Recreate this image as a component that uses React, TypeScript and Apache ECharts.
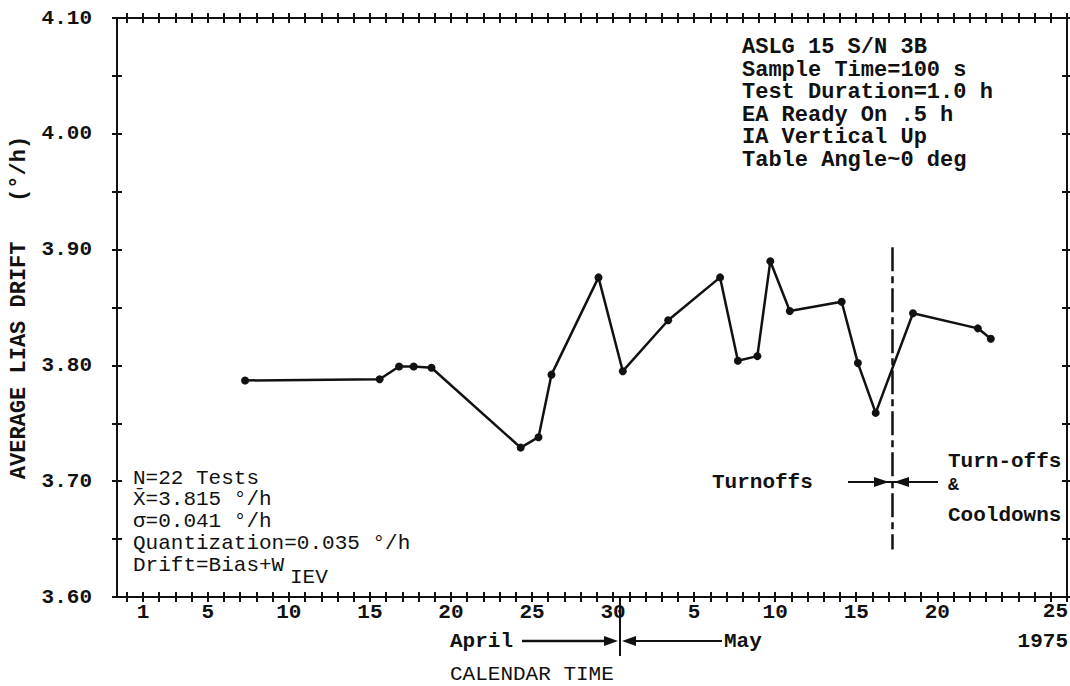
import React, { useEffect, useRef } from "react";
import * as echarts from "echarts";

// Test days (counted from 31 March 1975: April d = d, May d = 30 + d)
const testDays = [7.3, 15.6, 16.8, 17.7, 18.8, 24.3, 25.4, 26.2, 29.1, 30.6, 33.4, 36.6, 37.7, 38.9, 39.7, 40.9, 44.1, 45.1, 46.2, 48.5, 52.5, 53.3];
// Average bias drift per test (deg/h)
const driftValues = [3.787, 3.788, 3.799, 3.799, 3.798, 3.729, 3.738, 3.792, 3.876, 3.795, 3.839, 3.876, 3.804, 3.808, 3.890, 3.847, 3.855, 3.802, 3.759, 3.845, 3.832, 3.823];

// Calendar axis labels
const xLabelDays = [1, 5, 10, 15, 20, 25, 30, 35, 40, 45, 50];
const xLabelTexts = ["1", "5", "10", "15", "20", "25", "30", "5", "10", "15", "20"];
const xTickDays = Array.from({ length: 59 }, (_, i) => i);

// Drift axis ticks and labels
const yTicks = [3.6, 3.65, 3.7, 3.75, 3.8, 3.85, 3.9, 3.95, 4.0, 4.05, 4.1];
const yLabels = [3.6, 3.7, 3.8, 3.9, 4.0, 4.1];

// Day on which the turn-off procedure changed
const procedureChangeDay = 47.2;

const INK = "#111";
const FONT = "Liberation Mono";
const font = (size: number, weight = "bold") => `${weight} ${size}px "${FONT}"`;

const X_MIN = -0.6;
const X_MAX = 58;

function xAxisFrame(position: "top" | "bottom", inside: boolean, main: boolean) {
  return {
    type: "value",
    position,
    min: X_MIN,
    max: X_MAX,
    axisLine: { show: main, onZero: false, lineStyle: { color: INK, width: 2 } },
    axisTick: { show: true, inside, length: 5, customValues: xTickDays, lineStyle: { color: INK, width: 2 } },
    axisLabel: main && position === "bottom"
      ? {
          show: true,
          customValues: xLabelDays,
          formatter: (v: number) => {
            const i = xLabelDays.indexOf(Math.round(v));
            return i >= 0 ? xLabelTexts[i] : "";
          },
          color: INK,
          fontFamily: FONT,
          fontWeight: "bold",
          fontSize: 21,
          margin: 5,
        }
      : { show: false },
    splitLine: { show: false },
  };
}

function yAxisFrame(position: "left" | "right", inside: boolean, main: boolean) {
  const isLabelAxis = main && position === "left";
  return {
    type: "value",
    position,
    min: 3.6,
    max: 4.1,
    axisLine: { show: main, onZero: false, lineStyle: { color: INK, width: 2 } },
    axisTick: { show: true, inside, length: 5, customValues: yTicks, lineStyle: { color: INK, width: 2 } },
    axisLabel: isLabelAxis
      ? {
          show: true,
          customValues: yLabels,
          formatter: (v: number) => v.toFixed(2),
          color: INK,
          fontFamily: FONT,
          fontWeight: "bold",
          fontSize: 21,
          margin: 25,
        }
      : { show: false },
    splitLine: { show: false },
    ...(isLabelAxis
      ? {
          name: "AVERAGE LIAS DRIFT   (°/h)",
          nameLocation: "middle",
          nameRotate: 90,
          nameGap: 81,
          nameTextStyle: { color: INK, fontFamily: FONT, fontWeight: "bold", fontSize: 22 },
        }
      : {}),
  };
}

function txt(text: string, x: number, y: number, size = 21, align = "left", weight = "bold", lineHeight?: number) {
  return {
    type: "text",
    x,
    y,
    style: {
      text,
      font: font(size, weight),
      fill: INK,
      textAlign: align,
      textVerticalAlign: "middle",
      ...(lineHeight ? { lineHeight } : {}),
    },
  };
}

function seg(x1: number, y1: number, x2: number, y2: number, w = 2.5) {
  return { type: "line", shape: { x1, y1, x2, y2 }, style: { stroke: INK, lineWidth: w } };
}

function head(points: number[][]) {
  return { type: "polygon", shape: { points }, style: { fill: INK } };
}

export default function App() {
  const ref = useRef<HTMLDivElement>(null);

  useEffect(() => {
    if (!ref.current) return;
    const chart = echarts.init(ref.current, null, { renderer: "svg" });

    const points = testDays.map((d, i) => [d, driftValues[i]]);

    chart.setOption({
      animation: false,
      backgroundColor: "#fff",
      grid: { left: 117, right: 3, top: 18, bottom: 89, containLabel: false },
      xAxis: [
        xAxisFrame("bottom", false, true),
        xAxisFrame("bottom", true, false),
        xAxisFrame("top", false, true),
        xAxisFrame("top", true, false),
      ],
      yAxis: [
        yAxisFrame("left", false, true),
        yAxisFrame("left", true, false),
        yAxisFrame("right", true, true),
        yAxisFrame("right", false, false),
      ],
      series: [
        {
          type: "line",
          xAxisIndex: 0,
          yAxisIndex: 0,
          data: points,
          symbol: "circle",
          symbolSize: 8,
          itemStyle: { color: INK },
          lineStyle: { color: INK, width: 2.5 },
          markLine: {
            silent: true,
            symbol: ["none", "none"],
            label: { show: false },
            lineStyle: { color: INK, width: 2.5, type: [24, 5, 7, 5] },
            data: [
              [
                { coord: [procedureChangeDay, 3.902] },
                { coord: [procedureChangeDay, 3.641] },
              ],
            ],
          },
        },
      ],
      graphic: [
        // Test conditions
        txt(
          "ASLG 15 S/N 3B\nSample Time=100 s\nTest Duration=1.0 h\nEA Ready On .5 h\nIA Vertical Up\nTable Angle~0 deg",
          742, 104, 22, "left", "bold", 22.6
        ),
        // Statistics
        txt("N=22 Tests", 133, 478, 21, "left", "normal"),
        txt("X\u0304=3.815 °/h", 133, 499, 21, "left", "normal"),
        txt("σ=0.041 °/h", 133, 521, 21, "left", "normal"),
        txt("Quantization=0.035 °/h", 133, 543, 21, "left", "normal"),
        txt("Drift=Bias+W", 133, 565, 21, "left", "normal"),
        txt("IEV", 290, 577, 21, "left", "normal"),
        // Turn-off annotation
        txt("Turnoffs", 712, 482, 21),
        seg(848, 482, 938, 482, 2),
        head([[874, 477], [889, 482], [874, 487]]),
        head([[909, 477], [894, 482], [909, 487]]),
        txt("Turn-offs", 948, 461, 21),
        txt("&", 948, 485, 18),
        txt("Cooldowns", 948, 515, 21),
        // Calendar months
        txt("April", 450, 641, 21),
        seg(522, 641, 608, 641, 2.5),
        head([[604, 636], [618, 641], [604, 646]]),
        seg(620, 597, 620, 656, 2),
        seg(632, 641, 722, 641, 2),
        head([[636, 636], [622, 641], [636, 646]]),
        txt("May", 724, 641, 21),
        txt("25", 1068, 611, 21, "right"),
        txt("1975", 1068, 641, 21, "right"),
        txt("CALENDAR TIME", 450, 674, 21, "left", "normal"),
      ],
    });

    return () => chart.dispose();
  }, []);

  return (
    <div
      ref={ref}
      style={{ position: "absolute", left: 0, top: 0, width: 1070, height: 686, background: "#fff" }}
    />
  );
}
